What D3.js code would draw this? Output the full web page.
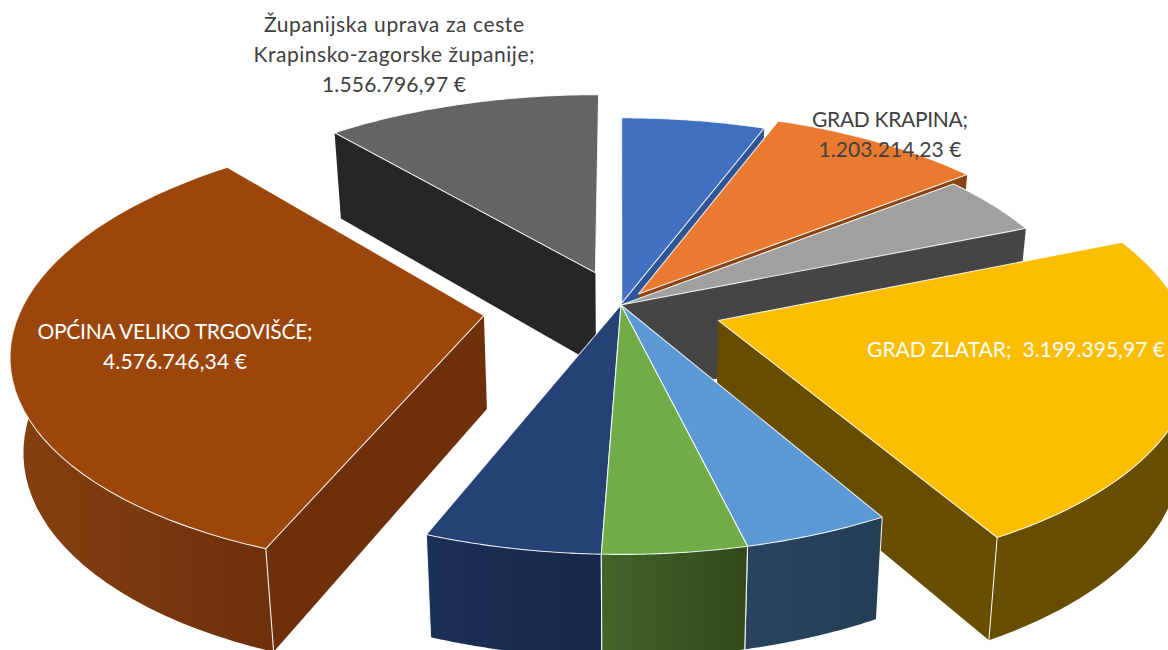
<!DOCTYPE html>
<html><head><meta charset="utf-8">
<script src="https://cdn.jsdelivr.net/npm/d3@7/dist/d3.min.js"></script>
<style>html,body{margin:0;padding:0;background:#fff;overflow:hidden}svg{display:block}text{font-family:Lato,"Open Sans",sans-serif}</style>
</head><body><svg id="c" width="1168" height="650"></svg>
<script>
// data (estimated where unlabeled)
const names=["Blue","GRAD KRAPINA","Grey","GRAD ZLATAR","LightBlue","Green","Navy","OPĆINA VELIKO TRGOVIŠĆE","Županijska uprava za ceste Krapinsko-zagorske županije"];
const values=[795000,1203214.23,618000,3199395.97,618000,606000,745000,4576746.34,1556796.97];
const explode=[4,30,0,102,0,0,0,138,76];
const topColors=["#4270c0","#e97a30","#a0a0a0","#fbbe00","#5b99d6","#70ac48","#254277","#9b470c","#646464"];
const wallA=["#2f5597","#8f4a16","#454545","#664d00","#28445f","#426529","#1b3056","#864010","#262626"];
const wallB=["#2a4d88","#8a4313","#454545","#664d00","#243d55","#31491b","#152748","#6d300b","#262626"];
const sideColors=["#2f5597","#8a4313","#454545","#664d00","#243d55","#31491b","#152748","#6d300b","#262626"];
const drawOrder=[8,0,1,2,3,7,6,4,5];
const labelLines=[
 {lines:["Županijska uprava za ceste","Krapinsko-zagorske županije;","1.556.796,97 €"],widths:[260,281,144],x:394,y:32,fill:"#404040"},
 {lines:["GRAD KRAPINA;","1.203.214,23 €"],widths:[156,143],x:890,y:127,fill:"#404040"},
 {lines:["GRAD ZLATAR;  3.199.395,97 €"],widths:[298],x:1016,y:357,fill:"#fff"},
 {lines:["OPĆINA VELIKO TRGOVIŠĆE;","4.576.746,34 €"],widths:[275,144],x:175,y:339,fill:"#fff"}
];
const cx=621,cy=305,R=462,k=0.461,p=0.000316,g=0.978,D=93;
const svg=d3.select("#c"),defs=svg.append("defs");
const arcs=d3.pie().sort(null).value(d=>d)(values);
const line=d3.line();
const topP=(X,Y)=>{const s=1/(1-Y*p);return [cx+s*X,cy+s*Y*k]};
const botP=(X,Y)=>{const s=1/(1-Y*p);return [cx+s*X*g,cy+s*(Y*k*g+D)]};
const deg=d3.scaleLinear().domain([0,48]);
drawOrder.forEach(i=>{
  const a=arcs[i],mid=(a.startAngle+a.endAngle)/2;
  const ox=explode[i]*Math.sin(mid),oy=-explode[i]*Math.cos(mid);
  const ths=d3.range(0,49).map(t=>deg.range([a.startAngle,a.endAngle])(t));
  const pts=ths.map(th=>[ox+R*Math.sin(th),oy-R*Math.cos(th)]);
  const apex=[ox,oy],g0=svg.append("g");
  const id="w"+i,gr=defs.append("linearGradient").attr("id",id).attr("x1",0).attr("x2",1).attr("y1",0).attr("y2",0);
  gr.append("stop").attr("offset",0).attr("stop-color",wallA[i]);
  gr.append("stop").attr("offset",1).attr("stop-color",wallB[i]);
  const wall=(d,fill)=>g0.append("path").attr("d",d).attr("fill",fill).attr("fill-rule","nonzero").attr("stroke","none");
  const edge=(poly)=>g0.append("path").attr("d",line(poly)).attr("fill","none").attr("stroke","#fff").attr("stroke-width",1.1).attr("opacity",.9);
  if(Math.sin(a.startAngle)<-0.001){const e=pts[0];wall(line([topP(...apex),topP(...e),botP(...e),botP(...apex)])+"Z",sideColors[i]);}
  if(Math.sin(a.endAngle)>0.001){const e=pts[48];wall(line([topP(...apex),topP(...e),botP(...e),botP(...apex)])+"Z",sideColors[i]);}
  // outer wall: swept quads, only where the rim is not facing away
  let d="";
  for(let t=0;t<48;t++){
    if(Math.cos((ths[t]+ths[t+1])/2)>0.25) continue;
    d+=line([topP(...pts[t]),topP(...pts[t+1]),botP(...pts[t+1]),botP(...pts[t])])+"Z";
  }
  if(d) wall(d,`url(#${id})`);
  [pts[0],pts[48]].forEach(e=>{const a0=topP(...e);if(e[1]>0)edge([a0,botP(...e)]);});
  g0.append("path").attr("d",line([topP(...apex)].concat(pts.map(q=>topP(...q))))+"Z")
    .attr("fill",topColors[i]).attr("stroke","#fff").attr("stroke-width",1.1).attr("stroke-opacity",.85).attr("stroke-linejoin","round");
});
labelLines.forEach(l=>{
  const t=svg.append("text").attr("text-anchor","middle").attr("fill",l.fill).attr("font-size",21);
  l.lines.forEach((s,j)=>t.append("tspan").attr("x",l.x).attr("y",l.y+j*30).attr("textLength",l.widths[j]).attr("lengthAdjust","spacing").attr("xml:space","preserve").text(s));
});
</script></body></html>
